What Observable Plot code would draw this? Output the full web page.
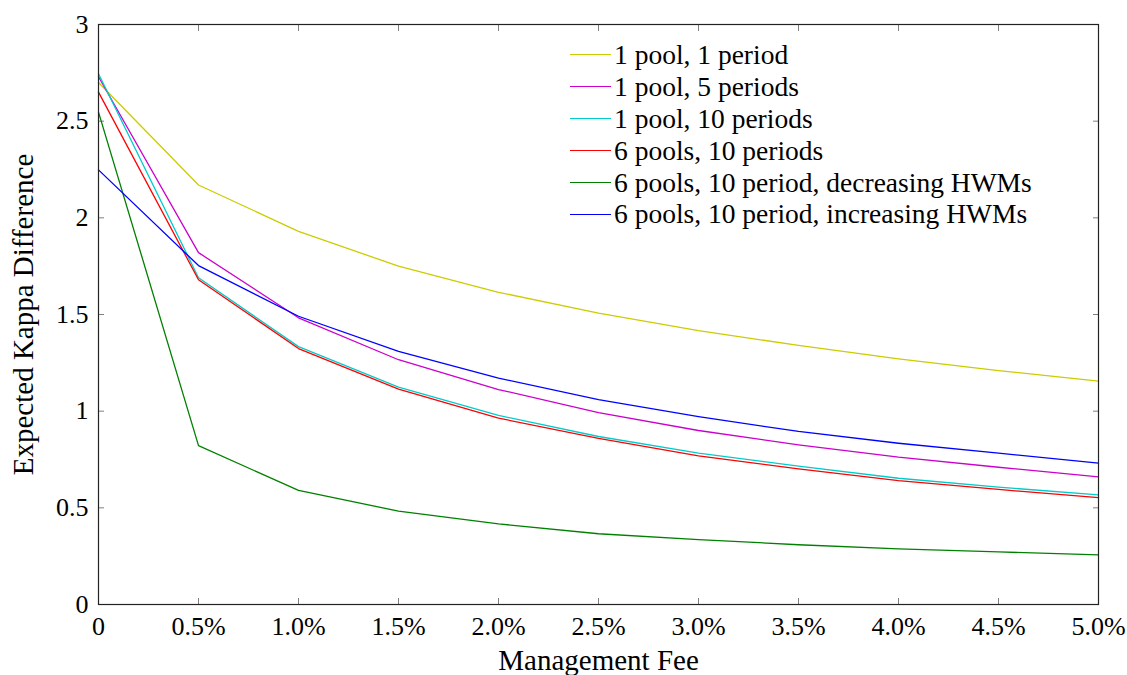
<!DOCTYPE html>
<html>
<head>
<meta charset="utf-8">
<script src="https://cdn.jsdelivr.net/npm/d3@7"></script>
<script src="https://cdn.jsdelivr.net/npm/@observablehq/plot@0.6"></script>
<style>
  html, body { margin: 0; padding: 0; background: #fff; }
  #wrap { position: relative; width: 1127px; height: 675px; overflow: hidden; font-family: "Liberation Serif", serif; }
  #legend { position: absolute; left: 570px; top: 39px; font-family: "Liberation Serif", serif; font-size: 27.5px; color: #000; }
  #legend .row { display: flex; align-items: center; height: 31.9px; white-space: nowrap; }
  #legend .swatch { width: 41px; height: 0; border-top: 1.3px solid; margin-right: 3px; }
</style>
</head>
<body>
<div id="wrap"></div>
<script>
const fees = [0, 0.5, 1.0, 1.5, 2.0, 2.5, 3.0, 3.5, 4.0, 4.5, 5.0];
const seriesNames = [
  "1 pool, 1 period",
  "1 pool, 5 periods",
  "1 pool, 10 periods",
  "6 pools, 10 periods",
  "6 pools, 10 period, decreasing HWMs",
  "6 pools, 10 period, increasing HWMs"
];
const seriesColors = ["#cccc00", "#cc00cc", "#00cccc", "#ff0000", "#008000", "#0000ff"];
const onePoolOnePeriod   = [2.70, 2.17, 1.93, 1.75, 1.615, 1.507, 1.417, 1.340, 1.271, 1.210, 1.155];
const onePoolFivePeriods = [2.73, 1.82, 1.483, 1.266, 1.112, 0.993, 0.900, 0.826, 0.762, 0.710, 0.660];
const onePoolTenPeriods  = [2.745, 1.69, 1.334, 1.124, 0.978, 0.869, 0.783, 0.716, 0.653, 0.607, 0.567];
const sixPoolsTenPeriods = [2.65, 1.68, 1.324, 1.114, 0.964, 0.859, 0.769, 0.702, 0.641, 0.595, 0.553];
const decreasingHWMs     = [2.547, 0.822, 0.59, 0.483, 0.417, 0.366, 0.336, 0.309, 0.288, 0.272, 0.257];
const increasingHWMs     = [2.248, 1.753, 1.491, 1.309, 1.171, 1.060, 0.972, 0.895, 0.834, 0.783, 0.731];
const xTicks = [0, 0.5, 1.0, 1.5, 2.0, 2.5, 3.0, 3.5, 4.0, 4.5, 5.0];
const yTicks = [0, 0.5, 1, 1.5, 2, 2.5, 3];
const xLabel = "Management Fee";
const yLabel = "Expected Kappa Difference";

const allValues = [onePoolOnePeriod, onePoolFivePeriods, onePoolTenPeriods, sixPoolsTenPeriods, decreasingHWMs, increasingHWMs];
const data = [];
allValues.forEach((vals, i) => vals.forEach((v, j) => data.push({series: seriesNames[i], fee: fees[j], value: v})));

const xFmt = d => d === 0 ? "0" : d.toFixed(1) + "%";
const tickColor = "#808080";
const serif = "'Liberation Serif', serif";

const chart = Plot.plot({
  width: 1127,
  height: 675,
  marginLeft: 98,
  marginRight: 29,
  marginTop: 24,
  marginBottom: 71,
  style: {fontFamily: serif, fontSize: "25px", color: "#000", background: "#fff"},
  x: {domain: [0, 5]},
  y: {domain: [0, 3]},
  color: {domain: seriesNames, range: seriesColors},
  marks: [
    Plot.axisX(xTicks, {anchor: "bottom", tickSize: -6, tickFormat: () => "", stroke: tickColor, label: null}),
    Plot.axisX(xTicks, {anchor: "top", tickSize: -6, tickFormat: () => "", stroke: tickColor, label: null}),
    Plot.axisY(yTicks, {anchor: "left", tickSize: -6, tickFormat: () => "", stroke: tickColor, label: null}),
    Plot.axisY(yTicks, {anchor: "right", tickSize: -6, tickFormat: () => "", stroke: tickColor, label: null}),
    Plot.axisX(xTicks, {anchor: "bottom", tickSize: 0, tickPadding: 12, tickFormat: xFmt, fontSize: 26, fontFamily: serif, label: null}),
    Plot.axisX({anchor: "bottom", ticks: [], tickSize: 0, fontSize: 29, fontFamily: serif,
      label: xLabel, labelAnchor: "center", labelOffset: 65, labelArrow: "none"}),
    Plot.axisY(yTicks, {anchor: "left", tickSize: 0, tickPadding: 10, tickFormat: d => String(d), fontSize: 26, fontFamily: serif, label: null}),
    Plot.axisY({anchor: "left", ticks: [], tickSize: 0, fontSize: 29, fontFamily: serif,
      label: yLabel, labelAnchor: "center", labelOffset: 86, labelArrow: "none"}),
    Plot.line(data, {x: "fee", y: "value", z: "series", stroke: "series", strokeWidth: 1.3}),
    Plot.frame({stroke: "#222", strokeWidth: 1.2})
  ]
});
document.getElementById("wrap").appendChild(chart);

const legend = document.createElement("div");
legend.id = "legend";
seriesNames.forEach((name, i) => {
  const row = document.createElement("div");
  row.className = "row";
  const sw = document.createElement("span");
  sw.className = "swatch";
  sw.style.borderTopColor = seriesColors[i];
  const t = document.createElement("span");
  t.textContent = name;
  row.appendChild(sw);
  row.appendChild(t);
  legend.appendChild(row);
});
document.getElementById("wrap").appendChild(legend);
</script>
</body>
</html>
